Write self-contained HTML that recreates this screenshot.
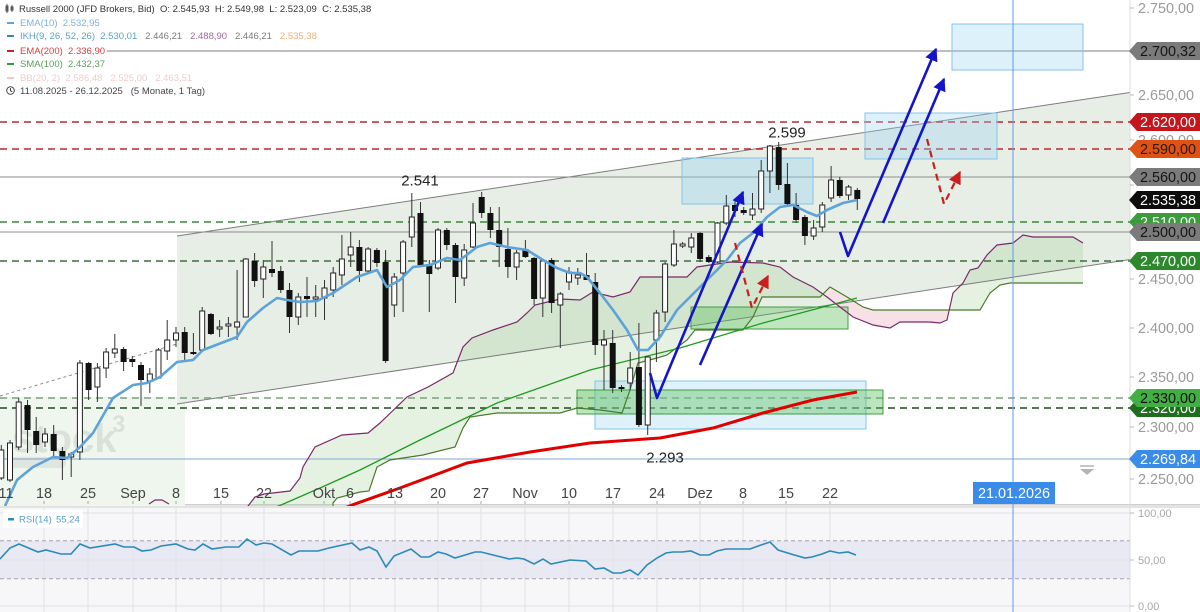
<!DOCTYPE html>
<html><head><meta charset="utf-8">
<style>
html,body{margin:0;padding:0;background:#fff;}
#wrap{position:relative;width:1200px;height:612px;overflow:hidden;font-family:"Liberation Sans",Arial,sans-serif;}
svg{position:absolute;left:0;top:0;}
.lg{position:absolute;left:0;font-size:9.5px;line-height:12px;white-space:nowrap;}
.lg span.b{background:#fff;padding:0 2px 0 5px;}
.dash{display:inline-block;width:7px;height:2.5px;vertical-align:middle;margin-right:6px;margin-top:-1px;}
</style></head>
<body><div id="wrap">
<svg width="1200" height="612" viewBox="0 0 1200 612" xmlns="http://www.w3.org/2000/svg" font-family="Liberation Sans, Arial, sans-serif">
<defs>
<clipPath id="main"><rect x="0" y="0" width="1130" height="506"/></clipPath>
<clipPath id="pinkclip"><rect x="823" y="0" width="127" height="506"/></clipPath>
<marker id="ab" viewBox="0 0 10 10" refX="9" refY="5" markerWidth="13" markerHeight="13" markerUnits="userSpaceOnUse" orient="auto"><path d="M0,0 L10,5 L0,10 z" fill="#1414c8"/></marker>
<marker id="ar" viewBox="0 0 10 10" refX="9" refY="5" markerWidth="13" markerHeight="13" markerUnits="userSpaceOnUse" orient="auto"><path d="M0,0 L10,5 L0,10 z" fill="#c81e1e"/></marker>
</defs>

<!-- RSI panel -->
<rect x="0" y="508" width="1130" height="104" fill="#f7f7f9"/>
<rect x="0" y="540.7" width="1130" height="38" fill="#e9e9f4"/>
<g stroke="#e2e2e6" stroke-width="1">
<line x1="0" y1="513" x2="1130" y2="513"/>
<line x1="0" y1="560" x2="1130" y2="560"/>
<line x1="0" y1="606" x2="1130" y2="606"/>
<path d="M44 508V612M88 508V612M133 508V612M176 508V612M221 508V612M264 508V612M324 508V612M350 508V612M395 508V612M438 508V612M481 508V612M525 508V612M569 508V612M613 508V612M657 508V612M700 508V612M743 508V612M786 508V612M830 508V612"/>
</g>
<g stroke="#a4a4b4" stroke-width="1" stroke-dasharray="4,3">
<line x1="0" y1="540.7" x2="1130" y2="540.7"/>
<line x1="0" y1="578.7" x2="1130" y2="578.7"/>
</g>
<polyline fill="none" stroke="#2a8ab8" stroke-width="1.6" points="0,559 10,548 19,544 38,552 46,550 61,554 71,554 80,544 90,548 115,544 124,547 134,547 142,551 151,550 161,546 176,544 188,549 195,550 203,544 212,549 226,547 239,547 247,539 256,545 264,543 272,544 291,555 299,551 318,551 329,548 352,543 360,550 369,547 377,551 386,567 394,556 411,549 421,557 429,557 438,552 446,554 455,558 475,552 481,552 509,559 517,558 524,559 534,564 543,559 551,564 570,560 586,561 595,569 604,568 613,573 621,573 630,570 638,575 647,565 657,558 666,553 673,552 682,552 691,551 700,555 709,555 717,551 726,549 736,549 750,549 761,545 770,542 778,550 791,554 805,558 812,557 822,554 830,551 839,553 848,552 856,555"/>
<rect x="3" y="510" width="80" height="18" fill="#fff" opacity="0.85"/>
<rect x="8" y="518" width="6" height="2.5" fill="#2a8ab8"/>
<text x="19" y="522.5" font-size="9.5" fill="#5aa0c8">RSI(14)</text>
<text x="56" y="522.5" font-size="9.5" fill="#5aa0c8">55,24</text>

<!-- separator -->
<rect x="0" y="504.5" width="1200" height="3.5" fill="#e3e3e3"/>
<line x1="0" y1="504.5" x2="1200" y2="504.5" stroke="#cfcfcf" stroke-width="1"/>

<g clip-path="url(#main)">
<!-- lower-left light green -->
<rect x="0" y="397" width="185" height="110" fill="#eef6ee"/>
<!-- channel -->
<polygon points="177,236 1130,92.5 1130,259.5 177,404" fill="#e7eee6"/>
<!-- ichimoku cloud -->
<polygon fill="rgba(150,205,140,0.25)" points="245,510 255,497 264,494 290,491 300,478 303,467 315,447 342,435 368,433 380,423 407,397 428,387 453,373 463,347 472,338 493,330 517,322 527,313 535,305 560,299 580,300 593,292 613,297 630,292 640,277 687,277 697,267 730,262 763,263 780,267 793,277 813,287 827,297 840,307 853,317 873,325 890,328 900,322 930,322 940,323 947,320 953,293 963,283 970,270 978,268 987,255 997,245 1013,243 1023,235 1033,237 1073,237 1083,243 1083,283 1010,283 1000,285 990,293 980,310 873,310 863,307 847,297 830,287 820,297 762,297 753,317 743,330 695,330 687,340 667,355 657,358 638,363 630,390 622,413 600,410 577,408 560,413 497,413 470,417 463,428 455,447 423,455 390,460 377,467 369,491 360,492 337,498 333,503 320,515 245,520"/>
<g clip-path="url(#pinkclip)">
<polygon fill="#f7e1e6" points="813,287 827,297 840,307 853,317 873,325 890,328 900,322 930,322 940,323 947,320 953,293 953,310 873,310 863,307 847,297 830,287 820,297"/>
</g>
<!-- channel lines -->
<line x1="177" y1="236" x2="1130" y2="92.5" stroke="#7c7c7c" stroke-width="1"/>
<line x1="177" y1="404" x2="1130" y2="259.5" stroke="#7c7c7c" stroke-width="1"/>
<line x1="0" y1="396" x2="177" y2="344" stroke="#8a8a8a" stroke-width="1" stroke-dasharray="3,3"/>

<!-- horizontal levels -->
<line x1="0" y1="51" x2="1130" y2="51" stroke="#a8a8a8" stroke-width="1.5"/>
<line x1="0" y1="122" x2="1130" y2="122" stroke="#b8282c" stroke-width="1.4" stroke-dasharray="7,5"/>
<line x1="0" y1="149" x2="1130" y2="149" stroke="#b8282c" stroke-width="1.4" stroke-dasharray="7,5"/>
<line x1="0" y1="177" x2="1130" y2="177" stroke="#8c8c8c" stroke-width="1"/>
<line x1="0" y1="222" x2="1130" y2="222" stroke="#3a8a3a" stroke-width="1.4" stroke-dasharray="7,5"/>
<line x1="0" y1="232" x2="1130" y2="232" stroke="#8c8c8c" stroke-width="1"/>
<line x1="0" y1="261" x2="1130" y2="261" stroke="#3d6b3d" stroke-width="1.4" stroke-dasharray="7,5"/>
<line x1="0" y1="398" x2="1130" y2="398" stroke="#7fa07f" stroke-width="1.4" stroke-dasharray="7,5"/>
<line x1="0" y1="408" x2="1130" y2="408" stroke="#1f4a1f" stroke-width="1.4" stroke-dasharray="7,5"/>
<line x1="0" y1="459" x2="1130" y2="459" stroke="#9ab6dc" stroke-width="1.2"/>

<!-- watermark -->
<text x="12" y="452" font-size="40" font-weight="bold" fill="rgba(150,150,150,0.22)">stock</text>
<text x="112" y="432" font-size="24" font-weight="bold" fill="rgba(150,150,150,0.22)">3</text>
<rect x="10" y="457" width="56" height="11" rx="5" fill="rgba(150,150,150,0.16)"/>

<!-- boxes -->
<rect x="952" y="24" width="131" height="46" fill="rgba(150,212,242,0.32)" stroke="#86c4ea" stroke-width="1"/>
<rect x="865" y="113" width="132" height="46" fill="rgba(150,212,242,0.32)" stroke="#86c4ea" stroke-width="1"/>
<rect x="682" y="158" width="131" height="46" fill="rgba(150,212,242,0.38)" stroke="#86c4ea" stroke-width="1"/>
<rect x="691" y="307" width="157" height="22" fill="rgba(90,190,90,0.38)" stroke="#3f9e3f" stroke-width="1"/>
<rect x="595" y="381" width="271" height="48" fill="rgba(150,212,242,0.3)" stroke="#86c4ea" stroke-width="1"/>
<rect x="577" y="390" width="306" height="24" fill="rgba(90,190,90,0.4)" stroke="#3f9e3f" stroke-width="1"/>

<!-- ichimoku lines -->
<polyline fill="none" stroke="#7a2a6a" stroke-width="1.2" points="149,504 155,500 162,500 169,504"/>
<polyline fill="none" stroke="#7a2a6a" stroke-width="1.2" points="245,510 255,497 264,494 290,491 300,478 303,467 315,447 342,435 368,433 380,423 407,397 428,387 453,373 463,347 472,338 493,330 517,322 527,313 535,305 560,299 580,300 593,292 613,297 630,292 640,277 687,277 697,267 730,262 763,263 780,267 793,277 813,287 827,297 840,307 853,317 873,325 890,328 900,322 930,322 940,323 947,320 953,293 963,283 970,270 978,268 987,255 997,245 1013,243 1023,235 1033,237 1073,237 1083,243"/>
<polyline fill="none" stroke="#4a7a2a" stroke-width="1.2" points="333,506 333,503 337,498 360,492 369,491 377,467 390,460 423,455 455,447 463,428 470,417 497,413 560,413 577,408 600,410 622,413 630,390 638,363 657,358 667,355 687,340 695,330 743,330 753,317 762,297 820,297 830,287 847,297 863,307 873,310 980,310 990,293 1000,285 1010,283 1083,283"/>
<!-- SMA100 -->
<polyline fill="none" stroke="#1f9a1f" stroke-width="1.3" points="268,510 281,505 320,488 360,470 420,440 497,403 590,370 680,348 763,323 857,298"/>
<!-- EMA200 -->
<polyline fill="none" stroke="#e00000" stroke-width="3" points="340,510 352,505 400,488 467,463 530,452 590,443 660,438 713,428 763,413 813,400 857,392"/>

<!-- candles -->
<path fill="none" stroke="#333" stroke-width="1" d="M1.3 445V480M10 440V482M18.7 398V450M27.5 400V453M36.2 417V453M45 428V447M53.7 425V457M62.4 447V480M71.2 452V477M79.9 360V460M88.6 362V400M97.4 363V402M106.1 348V378M114.8 334V358M123.6 347V371M132.3 356V367M141 362V406M149.8 368V393M158.5 348V379M167.2 320V360M176 327V347M184.7 327V360M193.4 333V355M202.2 307V352M210.9 313V335M219.6 320V337M228.4 317V337M237.1 270V340M245.8 258V317M254.6 253V287M263.3 260V298M272 241V277M280.8 266V293M289.5 283V333M298.3 293V325M307 277V317M315.7 285V317M324.5 280V320M333.2 267V297M341.9 235V285M350.7 232V267M359.4 240V282M368.1 247V273M376.9 248V267M385.6 250V363M394.3 273V317M403.1 240V312M411.8 193V247M420.5 202V267M429.3 260V312M438 228V270M446.8 228V250M455.5 243V303M464.2 244V286M473 203V248M481.7 192V218M490.4 207V238M499.2 207V267M507.9 228V278M516.6 250V280M525.4 240V258M534.1 257V305M542.8 259V317M551.6 258V313M560.3 292V348M569 267V290M577.8 268V285M586.5 253V280M595.2 273V355M604 330V390M612.7 330V393M621.5 385V392M630.2 352V390M638.9 323V427M647.7 357V435M656.4 310V362M665.1 262V322M673.9 230V267M682.6 242V248M691.3 233V253M700.1 232V262M708.8 255V263M717.5 222V263M726.3 195V225M735 200V217M743.7 207V215M752.5 193V220M761.2 160V213M769.9 145V193M778.7 142V190M787.4 163V207M796.1 193V223M804.9 215V245M813.6 220V240M822.3 202V232M831.1 166V202M839.8 177V198M848.5 185V200M857.3 188V210"/>
<path fill="#fff" stroke="#222" stroke-width="1" d="M-1.2 450h5v28h-5zM7.5 443h5v37h-5zM16.2 402h5v45h-5zM42.5 434h5v8h-5zM68.7 454h5v3h-5zM77.4 363h5v89h-5zM94.9 368h5v19h-5zM103.6 352h5v16h-5zM112.3 349h5v4h-5zM147.3 374h5v7h-5zM156 350h5v28h-5zM164.7 340h5v11h-5zM173.5 333h5v7h-5zM199.7 311h5v39h-5zM217.1 327h5v2h-5zM225.9 324h5v2h-5zM234.6 322h5v5h-5zM243.3 259h5v58h-5zM260.8 267h5v12h-5zM295.8 297h5v20h-5zM313.2 297h5v2h-5zM322 288h5v10h-5zM330.7 273h5v17h-5zM339.4 259h5v16h-5zM348.2 247h5v8h-5zM365.6 249h5v22h-5zM391.8 277h5v28h-5zM400.6 242h5v31h-5zM409.3 217h5v20h-5zM435.5 230h5v38h-5zM461.7 250h5v28h-5zM470.5 223h5v24h-5zM514.1 253h5v14h-5zM540.3 261h5v37h-5zM557.8 294h5v11h-5zM566.5 272h5v10h-5zM575.3 275h5v3h-5zM601.5 340h5v5h-5zM627.7 368h5v15h-5zM645.2 357h5v68h-5zM653.9 313h5v27h-5zM662.6 264h5v48h-5zM671.4 244h5v21h-5zM680.1 244h5v2h-5zM688.8 238h5v9h-5zM715 223h5v39h-5zM723.8 206h5v17h-5zM750 209h5v6h-5zM758.7 171h5v38h-5zM767.4 146h5v25h-5zM811.1 228h5v8h-5zM819.8 205h5v22h-5zM828.6 180h5v18h-5zM846 187h5v8h-5z"/>
<path fill="#111" d="M24.5 405h6v25h-6zM33.2 431h6v14h-6zM50.7 434h6v17h-6zM59.4 451h6v9h-6zM85.6 363h6v27h-6zM120.6 349h6v13h-6zM129.3 359h6v3h-6zM138 365h6v15h-6zM181.7 332h6v21h-6zM190.4 352h6v2h-6zM207.9 314h6v20h-6zM251.6 261h6v20h-6zM269 269h6v4h-6zM277.8 271h6v19h-6zM286.5 290h6v27h-6zM304 296h6v3h-6zM356.4 247h6v24h-6zM373.9 250h6v13h-6zM382.6 262h6v99h-6zM417.5 213h6v52h-6zM426.3 264h6v10h-6zM443.8 230h6v15h-6zM452.5 245h6v32h-6zM478.7 197h6v16h-6zM487.4 213h6v17h-6zM496.2 230h6v17h-6zM504.9 249h6v18h-6zM522.4 249h6v8h-6zM531.1 258h6v41h-6zM548.6 260h6v43h-6zM583.5 275h6v5h-6zM592.2 282h6v63h-6zM609.7 343h6v45h-6zM618.5 387h6v2h-6zM635.9 367h6v58h-6zM697.1 233h6v26h-6zM705.8 257h6v5h-6zM732 205h6v6h-6zM740.7 210h6v3h-6zM775.7 147h6v38h-6zM784.4 184h6v20h-6zM793.1 205h6v15h-6zM801.9 217h6v19h-6zM836.8 180h6v16h-6zM854.3 190h6v9h-6z"/>

<!-- EMA10 -->
<polyline fill="none" stroke="#5ea2da" stroke-width="2.6" stroke-linejoin="round" points="5,506 17,480 33,467 53,457 67,458 80,447 93,433 113,398 133,385 147,383 160,377 177,362 193,360 203,350 237,337 247,322 263,308 277,298 287,300 300,302 317,301 333,293 357,277 377,270 387,287 400,280 413,267 430,265 447,258 460,260 477,247 490,243 507,247 527,250 543,260 557,268 570,273 580,273 587,277 600,293 613,310 627,330 638,350 648,350 660,337 677,310 690,297 710,277 727,260 740,243 753,233 767,217 780,207 793,205 807,212 817,216 827,210 843,203 857,200"/>

<!-- arrows -->
<g fill="none" stroke="#1414c8" stroke-width="2.6" stroke-linejoin="round">
<polyline points="650,373 657,398 743,192" marker-end="url(#ab)"/>
<line x1="700" y1="365" x2="762" y2="224" marker-end="url(#ab)"/>
<polyline points="840,232 848,256 936,49" marker-end="url(#ab)"/>
<line x1="883" y1="223" x2="944" y2="79" marker-end="url(#ab)"/>
</g>
<g fill="none" stroke="#c81e1e" stroke-width="2.2" stroke-dasharray="7,5">
<polyline points="735,243 752,308 768,276" marker-end="url(#ar)"/>
<polyline points="927,139 944,204 960,172" marker-end="url(#ar)"/>
</g>

<!-- price annotations -->
<text x="420" y="185.5" font-size="15" fill="#222" text-anchor="middle">2.541</text>
<text x="787" y="137.5" font-size="15" fill="#222" text-anchor="middle">2.599</text>
<text x="665" y="462.5" font-size="15" fill="#222" text-anchor="middle">2.293</text>

<!-- sell marker -->
<line x1="1080" y1="466" x2="1094" y2="466" stroke="#b4b4b4" stroke-width="1.5"/>
<polygon points="1080,469 1094,469 1087,475" fill="#b4b4b4"/>
</g>

<!-- vertical date line -->
<line x1="1013" y1="0" x2="1013" y2="612" stroke="#5e9ce8" stroke-width="1"/>

<!-- right axis -->
<line x1="1130" y1="0" x2="1130" y2="612" stroke="#dcdcdc" stroke-width="1"/>
<g font-size="14.4" fill="#9a9a9a">
<text x="1138" y="13">2.750,00</text>
<text x="1138" y="57">2.700,00</text>
<text x="1138" y="100">2.650,00</text>
<text x="1138" y="145">2.600,00</text>
<text x="1138" y="237">2.500,00</text>
<text x="1138" y="284">2.450,00</text>
<text x="1138" y="333">2.400,00</text>
<text x="1138" y="382">2.350,00</text>
<text x="1138" y="432">2.300,00</text>
<text x="1138" y="484">2.250,00</text>
</g>
<g stroke="#bbb" stroke-width="1">
<path d="M1130 8h4M1130 52h4M1130 95h4M1130 140h4M1130 185h4M1130 232h4M1130 279h4M1130 328h4M1130 377h4M1130 427h4M1130 479h4"/>
</g>
<g font-size="14.4">
<polygon points="1129,51 1137,42 1200,42 1200,60 1137,60" fill="#7b7b7b"/>
<text x="1140" y="56" fill="#151515">2.700,32</text>
<polygon points="1129,122 1137,113 1200,113 1200,131 1137,131" fill="#c4161c"/>
<text x="1140" y="127" fill="#fff">2.620,00</text>
<polygon points="1129,149 1137,140 1200,140 1200,158 1137,158" fill="#df5214"/>
<text x="1140" y="154" fill="#2a1a10">2.590,00</text>
<polygon points="1129,177 1137,168 1200,168 1200,186 1137,186" fill="#7b7b7b"/>
<text x="1140" y="182" fill="#151515">2.560,00</text>
<polygon points="1129,200 1137,191 1200,191 1200,209 1137,209" fill="#0c0c0c"/>
<text x="1140" y="205" fill="#fff">2.535,38</text>
<polygon points="1129,222 1137,213 1200,213 1200,231 1137,231" fill="#3c9c3c"/>
<text x="1140" y="227" fill="#fff">2.510,00</text>
<polygon points="1129,232 1137,223 1200,223 1200,241 1137,241" fill="#7b7b7b"/>
<text x="1140" y="237" fill="#151515">2.500,00</text>
<polygon points="1129,261 1137,252 1200,252 1200,270 1137,270" fill="#2d872d"/>
<text x="1140" y="266" fill="#fff">2.470,00</text>
<polygon points="1129,408 1137,399 1200,399 1200,417 1137,417" fill="#1f6e1f"/>
<text x="1140" y="413" fill="#fff">2.320,00</text>
<polygon points="1129,398 1137,389 1200,389 1200,407 1137,407" fill="#43ae43"/>
<text x="1140" y="403" fill="#101010">2.330,00</text>
<polygon points="1129,459 1137,450 1200,450 1200,468 1137,468" fill="#3b8ce9"/>
<text x="1140" y="464" fill="#fff">2.269,84</text>
</g>
<g font-size="11" fill="#a8a8a8">
<text x="1138" y="517">100,00</text>
<text x="1138" y="564">50,00</text>
<text x="1138" y="610">0,00</text>
</g>
<path d="M1130 513h4M1130 560h4M1130 606h4" stroke="#bbb" stroke-width="1"/>

<!-- x axis labels -->
<g font-size="14.4" fill="#444" text-anchor="middle">
<text x="6" y="498">11</text>
<text x="44" y="498">18</text>
<text x="88" y="498">25</text>
<text x="133" y="498">Sep</text>
<text x="176" y="498">8</text>
<text x="221" y="498">15</text>
<text x="264" y="498">22</text>
<text x="324" y="498">Okt</text>
<text x="350" y="498">6</text>
<text x="395" y="498">13</text>
<text x="438" y="498">20</text>
<text x="481" y="498">27</text>
<text x="525" y="498">Nov</text>
<text x="569" y="498">10</text>
<text x="613" y="498">17</text>
<text x="657" y="498">24</text>
<text x="700" y="498">Dez</text>
<text x="743" y="498">8</text>
<text x="786" y="498">15</text>
<text x="830" y="498">22</text>
</g>
<path d="M6 501v3M44 501v3M88 501v3M133 501v3M176 501v3M221 501v3M264 501v3M324 501v3M350 501v3M395 501v3M438 501v3M481 501v3M525 501v3M569 501v3M613 501v3M657 501v3M700 501v3M743 501v3M786 501v3M830 501v3" stroke="#aaa" stroke-width="1"/>
<rect x="973" y="482" width="82" height="22" fill="#3b8ce9"/>
<text x="1014" y="498" font-size="14.4" fill="#fff" text-anchor="middle">21.01.2026</text>
</svg>

<!-- legend -->
<div class="lg" style="top:4px;color:#333;"><span class="b" style="padding-left:5px;"><svg width="10" height="9" style="position:static;vertical-align:middle;margin-right:4px;margin-top:-2px"><path d="M2 0V9M1 2h2v5H1zM7 1V8M6 3h2v3H6z" stroke="#555" fill="none" stroke-width="1"/></svg>Russell 2000 (JFD Brokers, Bid)&nbsp;&nbsp;O: 2.545,93&nbsp;&nbsp;H: 2.549,98&nbsp;&nbsp;L: 2.523,09&nbsp;&nbsp;C: 2.535,38</span></div>
<div class="lg" style="top:18px;"><span class="b" style="padding-left:7px;"><span class="dash" style="background:#5ea2da"></span><span style="color:#7ab2e2">EMA(10)&nbsp; 2.532,95</span></span></div>
<div class="lg" style="top:31px;"><span class="b" style="padding-left:7px;"><span class="dash" style="background:#3a8aa8"></span><span style="color:#5aa0c8">IKH(9, 26, 52, 26)&nbsp; 2.530,01</span>&nbsp;&nbsp; <span style="color:#7a7a7a">2.446,21</span>&nbsp;&nbsp; <span style="color:#9a6a9a">2.488,90</span>&nbsp;&nbsp; <span style="color:#7a7a7a">2.446,21</span>&nbsp;&nbsp; <span style="color:#f0b078">2.535,38</span></span></div>
<div class="lg" style="top:46px;"><span class="b" style="padding-left:7px;"><span class="dash" style="background:#d42020"></span><span style="color:#d64040">EMA(200)&nbsp; 2.336,90</span></span></div>
<div class="lg" style="top:59px;"><span class="b" style="padding-left:7px;"><span class="dash" style="background:#3a9a3a"></span><span style="color:#5aa05a">SMA(100)&nbsp; 2.432,37</span></span></div>
<div class="lg" style="top:73px;"><span class="b" style="padding-left:7px;"><span class="dash" style="background:#f2c4cc"></span><span style="color:#f2cccc">BB(20, 2)&nbsp; 2.586,48&nbsp;&nbsp; 2.525,00&nbsp;&nbsp; 2.463,51</span></span></div>
<div class="lg" style="top:86px;color:#444;"><span class="b" style="padding-left:6px;"><svg width="9" height="9" style="position:static;vertical-align:middle;margin-right:5px;margin-top:-2px"><circle cx="4.5" cy="4.5" r="3.8" fill="none" stroke="#444" stroke-width="1"/><path d="M4.5 2V4.7L6.3 5.8" fill="none" stroke="#444" stroke-width="1"/></svg>11.08.2025 - 26.12.2025&nbsp;&nbsp; (5 Monate, 1 Tag)</span></div>
</div></body></html>
